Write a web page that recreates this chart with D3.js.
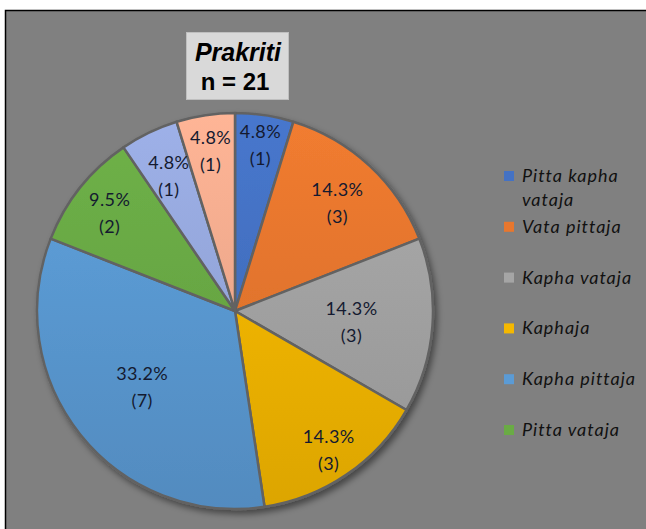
<!DOCTYPE html>
<html>
<head>
<meta charset="utf-8">
<script src="https://cdn.jsdelivr.net/npm/d3@7"></script>
<style>
  body { margin: 0; background: #fff; }
  svg { display: block; }
</style>
</head>
<body>
<svg width="646" height="529"></svg>
<script>
// slices, clockwise from 12 o'clock
const categories = ["Pitta kapha vataja", "Vata pittaja", "Kapha vataja", "Kaphaja",
    "Kapha pittaja", "Pitta vataja", "Vataja", "Pittaja"]
const counts = [1, 3, 3, 3, 7, 2, 1, 1]
const percentLabels = ["4.8%", "14.3%", "14.3%", "14.3%", "33.2%", "9.5%", "4.8%", "4.8%"]
// only the first six fit in the legend box
const legendShown = 6

const colors = ["#4472C4", "#E8772E", "#A5A5A5", "#F5B800", "#5B9BD5", "#6AAB45", "#97AADF", "#F5AD90"]
// distance of each data label from the centre, as share of radius
const labelRadius = [0.86, 0.76, 0.59, 0.84, 0.60, 0.81, 0.77, 0.83]

const svg = d3.select("svg")
const cx = 235, cy = 311, R = 198

// grey chart area
svg.append("rect")
    .attr("x", 5.5).attr("y", 10.5)
    .attr("width", 700).attr("height", 600)
    .style("fill", "#808080")
    .style("stroke", "#000")
    .style("stroke-width", 1.5)

const defs = svg.append("defs")
const shadow = defs.append("filter").attr("id", "shadow")
    .attr("x", "-20%").attr("y", "-20%").attr("width", "140%").attr("height", "140%")
shadow.append("feGaussianBlur").attr("in", "SourceAlpha").attr("stdDeviation", 3)
shadow.append("feOffset").attr("dx", 3).attr("dy", 4).attr("result", "b")
shadow.append("feFlood").attr("flood-color", "#000").attr("flood-opacity", 0.45)
shadow.append("feComposite").attr("in2", "b").attr("operator", "in")
const merge = shadow.append("feMerge")
merge.append("feMergeNode")
merge.append("feMergeNode").attr("in", "SourceGraphic")

// vertical gradient per slice, in the pie group's coordinates
colors.forEach((c, i) => {
    const g = defs.append("linearGradient").attr("id", "grad" + i)
        .attr("gradientUnits", "userSpaceOnUse")
        .attr("x1", 0).attr("y1", -R).attr("x2", 0).attr("y2", R)
    g.append("stop").attr("offset", 0).attr("stop-color", d3.color(c).brighter(0.12))
    g.append("stop").attr("offset", 1).attr("stop-color", d3.color(c).darker(0.3))
})

const pie = d3.pie().sort(null).value(d => d)
const arcs = pie(counts)
const arc = d3.arc().innerRadius(0).outerRadius(R)

const pieG = svg.append("g").attr("transform", `translate(${cx},${cy})`)

pieG.append("g").attr("filter", "url(#shadow)")
    .selectAll("path")
    .data(arcs)
    .enter()
    .append("path")
    .attr("d", arc)
    .style("fill", (d, i) => `url(#grad${i})`)
    .style("stroke", "#626262")
    .style("stroke-width", 2.5)
    .style("stroke-linejoin", "round")

pieG.selectAll("g.label")
    .data(arcs)
    .enter()
    .append("g")
    .attr("class", "label")
    .each(function (d, i) {
        const la = d3.arc().innerRadius(R * labelRadius[i]).outerRadius(R * labelRadius[i])
        const [x, y] = la.centroid(d)
        const t = d3.select(this).append("text")
            .attr("text-anchor", "middle")
            .style("font-family", "Lato, 'Open Sans', sans-serif")
            .style("font-size", "18px")
            .style("letter-spacing", "0.4px")
            .style("fill", "#141a30")
        t.append("tspan").attr("x", x).attr("y", y - 5).text(percentLabels[i])
        t.append("tspan").attr("x", x).attr("y", y + 22).text(`(${counts[i]})`)
    })

// title box
const title = svg.append("g")
title.append("rect")
    .attr("x", 186.5).attr("y", 32.5).attr("width", 102).attr("height", 67)
    .style("fill", "#D9D9D9")
    .style("stroke", "#bfbfbf")
title.append("text")
    .attr("x", 238).attr("y", 61)
    .attr("text-anchor", "middle")
    .style("font-family", "'Liberation Sans', Arial, sans-serif")
    .style("font-weight", "bold")
    .style("font-style", "italic")
    .style("font-size", "25px")
    .text("Prakriti")
title.append("text")
    .attr("x", 235).attr("y", 90)
    .attr("text-anchor", "middle")
    .style("font-family", "'Liberation Sans', Arial, sans-serif")
    .style("font-weight", "bold")
    .style("font-size", "24px")
    .text("n = 21")

// legend
const legendY = d3.scalePoint().domain(d3.range(legendShown)).range([176, 430])
const legend = svg.selectAll("g.legend")
    .data(categories.slice(0, legendShown))
    .enter()
    .append("g")
    .attr("class", "legend")
    .attr("transform", (d, i) => `translate(504,${legendY(i)})`)

legend.append("rect")
    .attr("x", 0).attr("y", -5)
    .attr("width", 10).attr("height", 10)
    .style("fill", (d, i) => colors[i])

legend.append("text")
    .attr("x", 18).attr("y", 6)
    .style("font-family", "Lato, 'Open Sans', sans-serif")
    .style("font-style", "italic")
    .style("font-size", "18px")
    .style("letter-spacing", "1px")
    .style("fill", "#111")
    .each(function (d) {
        const words = d.split(" ")
        const t = d3.select(this)
        if (words.length > 2) {
            t.append("tspan").attr("x", 18).attr("dy", 0).text(words.slice(0, 2).join(" "))
            t.append("tspan").attr("x", 18).attr("dy", 24).text(words.slice(2).join(" "))
        } else {
            t.text(d)
        }
    })
</script>
</body>
</html>
